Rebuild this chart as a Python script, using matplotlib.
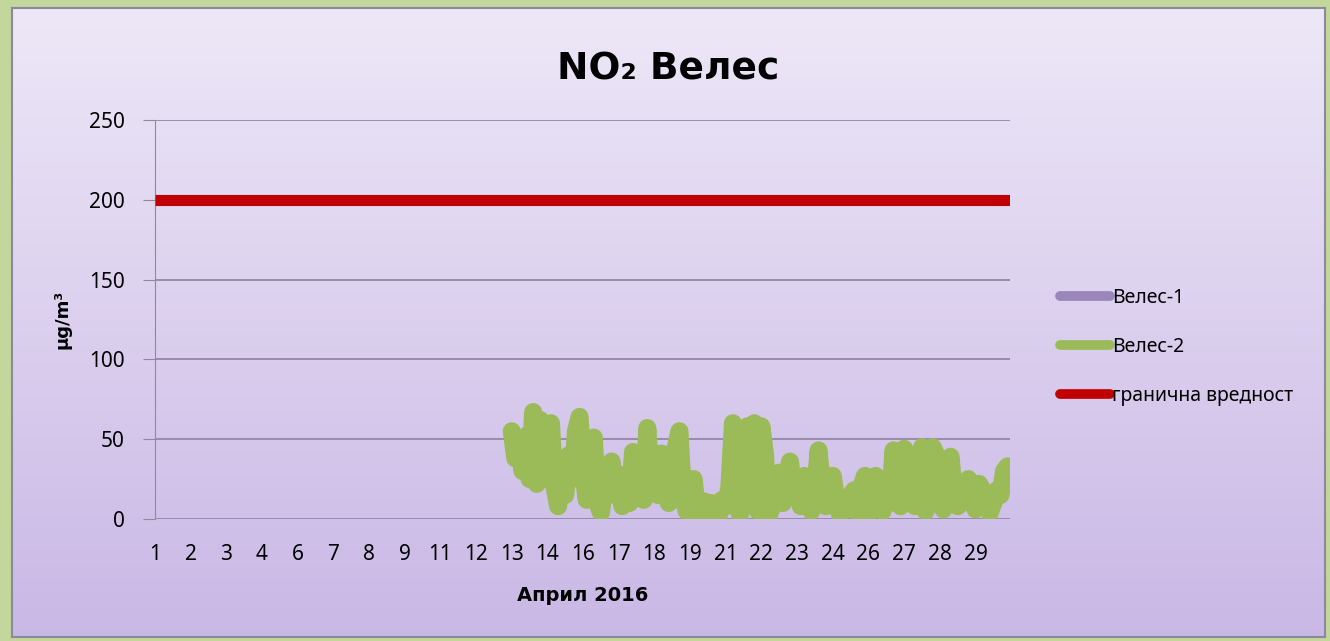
import numpy as np
import matplotlib
matplotlib.use("Agg")
import matplotlib.pyplot as plt
from matplotlib.lines import Line2D

plt.rcParams['font.family'] = ['Noto Sans', 'DejaVu Sans']
bold_font = ['DejaVu Sans']

# hourly categories for April 2016 (30 days x 24 h)
n_hours = 720
tick_idx = list(range(0, 720, 30))
tick_labels = ['1', '2', '3', '4', '6', '7', '8', '9', '11', '12', '13', '14',
               '16', '17', '18', '19', '21', '22', '23', '24', '26', '27', '28', '29']

# Велес-2, read every 3 hours starting at hour 300
veles2_start = 300
veles2_step = 3
veles2 = [55, 38, 50, 30, 52, 25, 67, 22, 62, 25, 45, 60, 20, 8, 30, 15, 40, 25, 55, 64,
          30, 12, 45, 51, 10, 4, 20, 30, 36, 15, 28, 8, 25, 10, 42, 20, 38, 12, 57, 25,
          40, 15, 41, 30, 10, 20, 45, 55, 15, 5, 8, 25, 3, 8, 11, 4, 10, 6, 2, 12,
          8, 20, 60, 10, 3, 15, 58, 30, 60, 5, 58, 40, 2, 8, 25, 29, 10, 22, 36, 15,
          25, 8, 27, 12, 5, 15, 43, 20, 8, 25, 27, 10, 3, 12, 6, 15, 18, 4, 20, 27,
          3, 10, 27, 15, 5, 20, 10, 43, 25, 8, 44, 12, 25, 8, 30, 45, 5, 15, 45, 40,
          10, 6, 20, 39, 15, 8, 10, 22, 25, 18, 6, 22, 18, 10, 4, 10, 18, 15, 30, 33]
limit_value = 200

fig = plt.figure(figsize=(13.3, 6.41), dpi=100)
fig.patch.set_facecolor('#c3d69b')

# gradient panel
bg = fig.add_axes([12 / 1330, 4 / 641, 1313 / 1330, 629 / 641])
grad = np.linspace(0, 1, 256).reshape(-1, 1)
top = np.array([0.93, 0.91, 0.97])
bot = np.array([0.79, 0.72, 0.90])
img = top + (bot - top) * grad[:, :, None]
bg.imshow(img, aspect='auto', extent=[0, 1, 0, 1])
bg.set_xticks([])
bg.set_yticks([])
for s in bg.spines.values():
    s.set_color('#8a8a9a')
    s.set_linewidth(1.5)

ax = fig.add_axes([155 / 1330, 1 - 519 / 641, 855 / 1330, 399 / 641])
ax.patch.set_alpha(0)

x2 = [veles2_start + veles2_step * i for i in range(len(veles2))]
ax.plot([0, n_hours - 1], [limit_value, limit_value], color='#c00000', lw=8,
        solid_capstyle='butt', zorder=3)
ax.plot(x2, veles2, color='#9bbb59', lw=13, solid_joinstyle='round',
        solid_capstyle='round', zorder=4)

ax.set_xlim(0, n_hours - 1)
ax.set_ylim(0, 250)
ax.set_yticks([0, 50, 100, 150, 200, 250])
ax.set_xticks(tick_idx)
ax.set_xticklabels(tick_labels)
ax.grid(axis='y', color='#8c82a0', lw=1.2)
ax.set_axisbelow(True)
for side in ['top', 'right', 'bottom']:
    ax.spines[side].set_visible(False)
ax.spines['left'].set_color('#8c8c98')
ax.tick_params(axis='y', length=9, color='#8c8c98', labelsize=15, pad=13)
ax.tick_params(axis='x', length=0, labelsize=15, pad=18)

ax.set_ylabel('μg/m³', fontsize=13, fontweight='bold', family=bold_font, labelpad=12)
ax.set_xlabel('Април 2016', fontsize=14, fontweight='bold', family=bold_font, labelpad=15)

fig.text(668 / 1330, 1 - 69 / 641, 'NO₂ Велес', fontsize=27, fontweight='bold',
         family=bold_font, ha='center', va='center')

handles = [Line2D([], [], color='#9a86b8', lw=7, solid_capstyle='round'),
           Line2D([], [], color='#9bbb59', lw=7, solid_capstyle='round'),
           Line2D([], [], color='#c00000', lw=7, solid_capstyle='round')]
fig.legend(handles, ['Велес-1', 'Велес-2', 'гранична вредност'],
           loc='center left', bbox_to_anchor=(1042 / 1330, 1 - 347 / 641),
           frameon=False, fontsize=14, handlelength=2.6, handletextpad=0.1,
           labelspacing=1.5)

fig.savefig('out.png', dpi=100, facecolor=fig.get_facecolor())
